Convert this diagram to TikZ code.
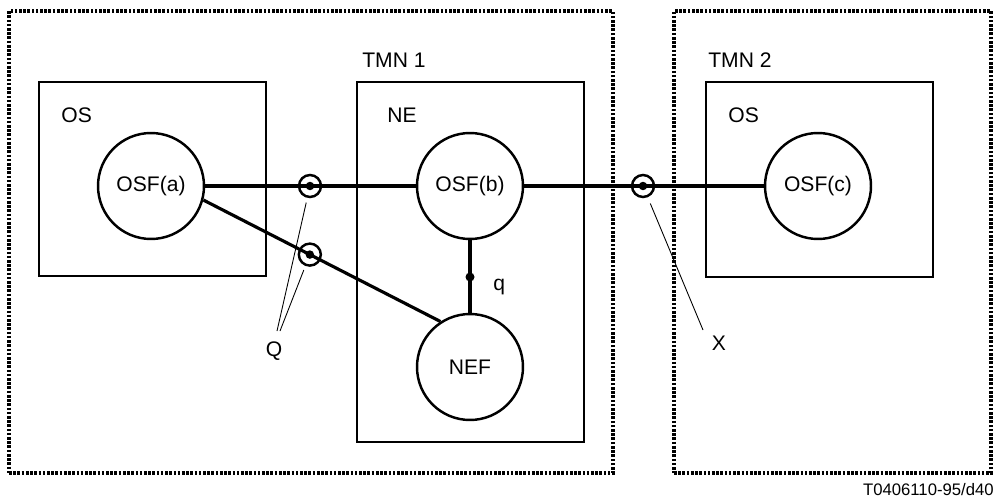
\documentclass[tikz,border=0pt]{standalone}
\usepackage{fontspec}
\setmainfont{Liberation Sans}
\usepackage{tikz}
\usetikzlibrary{calc}

\tikzset{
  func/.style={circle, draw, line width=1.4pt, minimum size=2.12cm, inner sep=0pt},
  blk/.style={draw, line width=1.5pt, minimum width=4.54cm},
  tmn/.style={draw, line width=1.9pt, dash pattern=on 1.5pt off 0.9pt},
  refpt/.style={circle, draw, line width=1.4pt, minimum size=0.44cm, inner sep=0pt,
    path picture={\fill (path picture bounding box.center) circle (0.085cm);}},
  dotpt/.style={circle, fill, minimum size=0.18cm, inner sep=0pt},
  tag/.style={anchor=base west, inner sep=0pt},
  link/.style={line width=1.8pt},
  leader/.style={line width=0.5pt},
}

\begin{document}
\begin{tikzpicture}[x=0.02cm, y=-0.02cm, font=\fontsize{12}{14}\selectfont]
       \useasboundingbox (0,0) rectangle (998,500);
       % TMN domains
       \node[tmn, minimum width=12.08cm, minimum height=9.24cm] (tmn1) at (311,242) {};
       \node[tmn, minimum width=6.34cm, minimum height=9.24cm] (tmn2) at (832.5,242) {};
       \node[tag] (tmn1lbl) at (362,68) {TMN 1};
       \node[tag] (tmn2lbl) at (708,68) {TMN 2};

       % blocks
       \node[blk, minimum height=3.88cm] (os1) at (152.5,179) {};
       \node[blk, minimum height=7.2cm] (ne) at (470.5,262) {};
       \node[blk, minimum height=3.9cm] (os2) at (819.5,179.5) {};
       \node[tag] (os1lbl) at (61,123) {OS};
       \node[tag] (nelbl) at (387,122.5) {NE};
       \node[tag] (os2lbl) at (728,123) {OS};

       % function blocks
       \node[func] (osfa) at (151,186) {OSF(a)};
       \node[func] (osfb) at (470,186) {OSF(b)};
       \node[func] (osfc) at (818,186) {OSF(c)};
       \node[func] (nef) at (470,367) {NEF};

       \draw[link] (osfa) -- (osfb);
       \draw[link] (osfb) -- (osfc);
       \draw[link] (osfb) -- (nef);
       \draw[link] (osfa.-15) -- (nef.123);

       % reference points
       \node[refpt] (q1) at (310,186) {};
       \node[refpt] (q2) at ($(osfa.-15)!0.449!(nef.123)$) {};
       \node[refpt] (xp) at (643,186) {};
       \node[dotpt] (qp) at (470,277) {};
       \node[tag] (qlbl) at (493,290) {q};

       \node[anchor=base, inner sep=0pt] (bigq) at (274,356) {Q};
       \node[anchor=base, inner sep=0pt] (xlbl) at (719,350) {X};
       \coordinate (qa) at (277,331);
       \coordinate (qb) at (280,331);
       \coordinate (xa) at (703,330);
       \draw[leader, shorten <=0.34cm] (q1.center) -- (qa);
       \draw[leader, shorten <=0.33cm] (q2.center) -- (qb);
       \draw[leader, shorten <=0.38cm] (xp.center) -- (xa);

       \node[anchor=base east, inner sep=0pt, font=\fontsize{9.5}{11}\selectfont] (fig) at (994,495) {T0406110-95/d40};
\end{tikzpicture}
\end{document}
